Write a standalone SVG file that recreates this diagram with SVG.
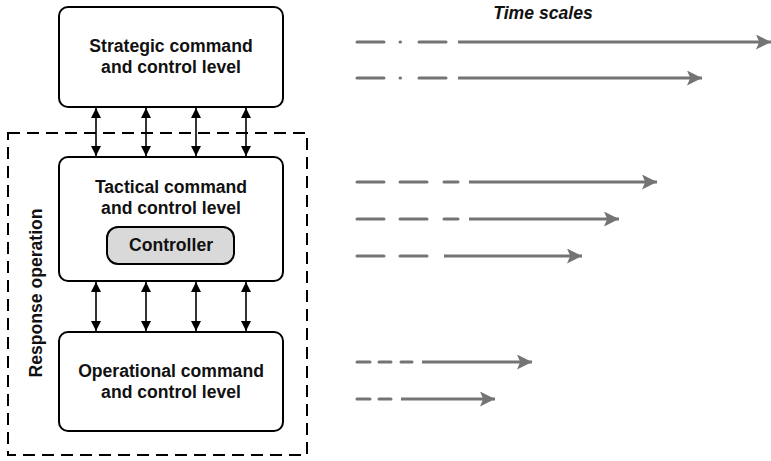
<svg xmlns="http://www.w3.org/2000/svg" width="771" height="461" viewBox="0 0 771 461">
  <style>
    .box { fill: #ffffff; stroke: #000000; stroke-width: 2; }
    .ctrl { fill: #d9d9d9; stroke: #000000; stroke-width: 2; }
    .lbl { font-family: "Liberation Sans", Arial, sans-serif; font-weight: bold; font-size: 17.6px; fill: #111111; text-anchor: middle; }
    .link { stroke: #000000; stroke-width: 1.6; fill: none; marker-start: url(#blk); marker-end: url(#blk); }
    .ts { stroke: #747474; stroke-width: 3; stroke-linecap: round; fill: none; }
    .tsa { stroke: #747474; stroke-width: 3; fill: none; marker-end: url(#gry); }
  </style>
  <defs>
    <marker id="blk" viewBox="0 0 10 10" refX="10" refY="5" markerWidth="10" markerHeight="10" markerUnits="userSpaceOnUse" orient="auto-start-reverse">
      <path d="M0,0 L10,5 L0,10 z" fill="#000000"/>
    </marker>
    <marker id="gry" viewBox="0 0 14 14" refX="14" refY="7" markerWidth="15" markerHeight="15" markerUnits="userSpaceOnUse" orient="auto">
      <path d="M0,0 L14,7 L0,14 L3,7 z" fill="#747474"/>
    </marker>
  </defs>

  <!-- response operation frame -->
  <g id="response-operation">
    <rect x="8" y="133" width="299" height="322" fill="none" stroke="#000000" stroke-width="2" stroke-dasharray="12,7"/>
    <text class="lbl" transform="translate(42,293) rotate(-90)">Response operation</text>
  </g>

  <g id="strategic">
    <rect class="box" x="59" y="7" width="224" height="100" rx="9"/>
    <text class="lbl" x="171" y="52">Strategic command</text>
    <text class="lbl" x="171" y="73">and control level</text>
  </g>

  <g id="tactical">
    <rect class="box" x="59" y="157" width="224" height="124" rx="9"/>
    <text class="lbl" x="171" y="193">Tactical command</text>
    <text class="lbl" x="171" y="214">and control level</text>
  </g>

  <g id="controller">
    <rect class="ctrl" x="107" y="227" width="127" height="37" rx="11"/>
    <text class="lbl" x="171" y="251">Controller</text>
  </g>

  <g id="operational">
    <rect class="box" x="59" y="332" width="224" height="99" rx="9"/>
    <text class="lbl" x="171" y="377">Operational command</text>
    <text class="lbl" x="171" y="398">and control level</text>
  </g>

  <g id="connectors">
    <line class="link" x1="96" y1="108" x2="96" y2="156"/>
    <line class="link" x1="146" y1="108" x2="146" y2="156"/>
    <line class="link" x1="196" y1="108" x2="196" y2="156"/>
    <line class="link" x1="246" y1="108" x2="246" y2="156"/>
    <line class="link" x1="96" y1="282" x2="96" y2="331"/>
    <line class="link" x1="146" y1="282" x2="146" y2="331"/>
    <line class="link" x1="196" y1="282" x2="196" y2="331"/>
    <line class="link" x1="246" y1="282" x2="246" y2="331"/>
  </g>

  <!-- time scales -->
  <g id="time-scales">
    <text class="lbl" x="543" y="19" font-style="italic" font-size="17px">Time scales</text>

    <path class="ts" d="M357,42 H384 M400,42 H400.5 M419,42 H446"/>
    <line class="tsa" x1="458" y1="42" x2="771" y2="42"/>

    <path class="ts" d="M357,78 H384 M400,78 H400.5 M419,78 H446"/>
    <line class="tsa" x1="458" y1="78" x2="702" y2="78"/>

    <path class="ts" d="M357,182 H384 M400,182 H427 M444,182 H458"/>
    <line class="tsa" x1="469" y1="182" x2="657" y2="182"/>

    <path class="ts" d="M357,219 H384 M400,219 H427 M444,219 H458"/>
    <line class="tsa" x1="469" y1="219" x2="619" y2="219"/>

    <path class="ts" d="M357,256 H384 M400,256 H427"/>
    <line class="tsa" x1="444" y1="256" x2="582" y2="256"/>

    <path class="ts" d="M357,362 H370 M379,362 H391 M401,362 H412"/>
    <line class="tsa" x1="422" y1="362" x2="532" y2="362"/>

    <path class="ts" d="M357,399 H370 M379,399 H391"/>
    <line class="tsa" x1="401" y1="399" x2="495" y2="399"/>
  </g>
</svg>
